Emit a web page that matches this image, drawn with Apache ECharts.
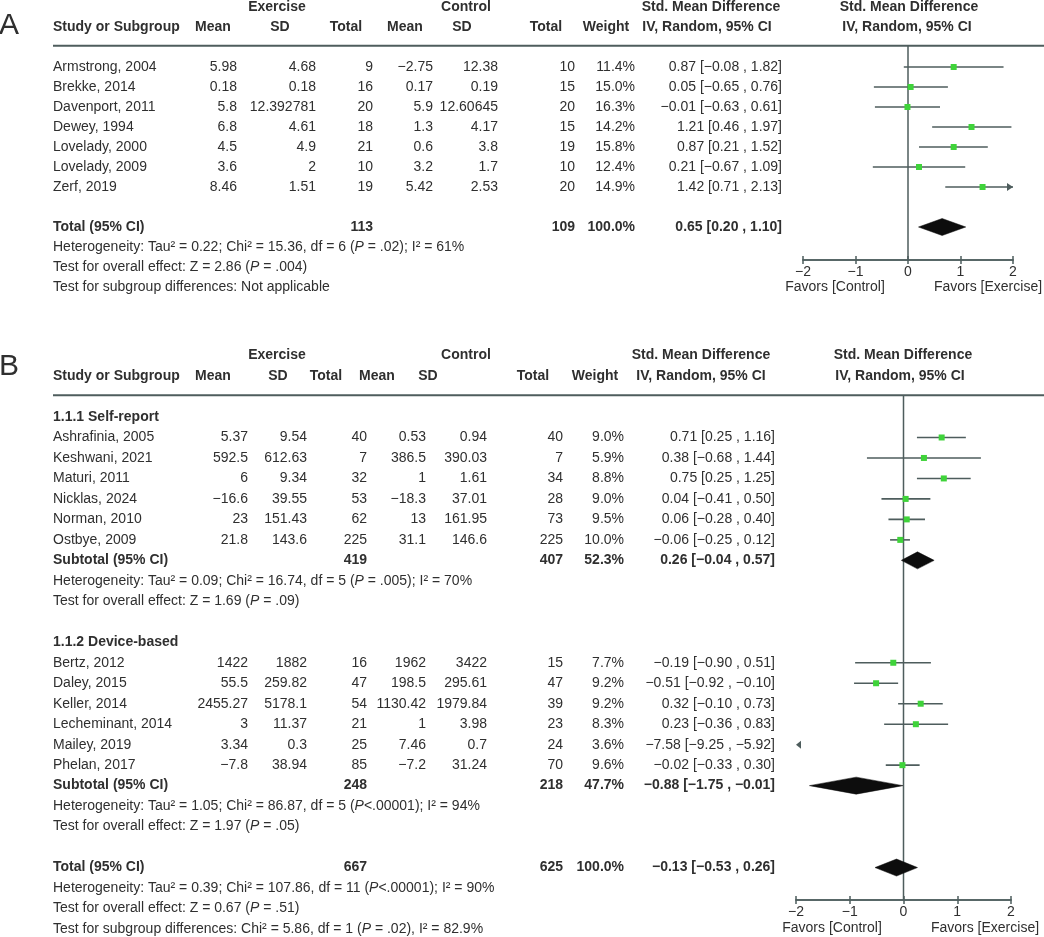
<!DOCTYPE html>
<html><head><meta charset="utf-8">
<script src="https://cdn.jsdelivr.net/npm/echarts@6/dist/echarts.min.js"></script>
<style>html,body{margin:0;padding:0;background:#fff}#c{width:1044px;height:937px}</style>
</head><body><div id="c"></div>
<script>
// ---------- Panel A data ----------
const studiesA = ['Armstrong, 2004','Brekke, 2014','Davenport, 2011','Dewey, 1994','Lovelady, 2000','Lovelady, 2009','Zerf, 2019'];
const exMeanA = [5.98, 0.18, 5.8, 6.8, 4.5, 3.6, 8.46];
const exSdA = [4.68, 0.18, 12.392781, 4.61, 4.9, 2, 1.51];
const exNA = [9, 16, 20, 18, 21, 10, 19];
const ctMeanA = [-2.75, 0.17, 5.9, 1.3, 0.6, 3.2, 5.42];
const ctSdA = [12.38, 0.19, 12.60645, 4.17, 3.8, 1.7, 2.53];
const ctNA = [10, 15, 20, 15, 19, 10, 20];
const weightA = [11.4, 15.0, 16.3, 14.2, 15.8, 12.4, 14.9];
const smdA = [0.87, 0.05, -0.01, 1.21, 0.87, 0.21, 1.42];
const loA = [-0.08, -0.65, -0.63, 0.46, 0.21, -0.67, 0.71];
const hiA = [1.82, 0.76, 0.61, 1.97, 1.52, 1.09, 2.13];
const totalA = {exN: 113, ctN: 109, w: 100.0, est: 0.65, lo: 0.20, hi: 1.10};
const textA = [
  'Heterogeneity: Tau² = 0.22; Chi² = 15.36, df = 6 ({i|P} = .02); I² = 61%',
  'Test for overall effect: Z = 2.86 ({i|P} = .004)',
  'Test for subgroup differences: Not applicable'
];

// ---------- Panel B data ----------
const groupNamesB = ['1.1.1 Self-report', '1.1.2 Device-based'];
const studiesB1 = ['Ashrafinia, 2005','Keshwani, 2021','Maturi, 2011','Nicklas, 2024','Norman, 2010','Ostbye, 2009'];
const exMeanB1 = [5.37, 592.5, 6, -16.6, 23, 21.8];
const exSdB1 = [9.54, 612.63, 9.34, 39.55, 151.43, 143.6];
const exNB1 = [40, 7, 32, 53, 62, 225];
const ctMeanB1 = [0.53, 386.5, 1, -18.3, 13, 31.1];
const ctSdB1 = [0.94, 390.03, 1.61, 37.01, 161.95, 146.6];
const ctNB1 = [40, 7, 34, 28, 73, 225];
const weightB1 = [9.0, 5.9, 8.8, 9.0, 9.5, 10.0];
const smdB1 = [0.71, 0.38, 0.75, 0.04, 0.06, -0.06];
const loB1 = [0.25, -0.68, 0.25, -0.41, -0.28, -0.25];
const hiB1 = [1.16, 1.44, 1.25, 0.50, 0.40, 0.12];
const subB1 = {exN: 419, ctN: 407, w: 52.3, est: 0.26, lo: -0.04, hi: 0.57};
const textB1 = [
  'Heterogeneity: Tau² = 0.09; Chi² = 16.74, df = 5 ({i|P} = .005); I² = 70%',
  'Test for overall effect: Z = 1.69 ({i|P} = .09)'
];
const studiesB2 = ['Bertz, 2012','Daley, 2015','Keller, 2014','Lecheminant, 2014','Mailey, 2019','Phelan, 2017'];
const exMeanB2 = [1422, 55.5, 2455.27, 3, 3.34, -7.8];
const exSdB2 = [1882, 259.82, 5178.1, 11.37, 0.3, 38.94];
const exNB2 = [16, 47, 54, 21, 25, 85];
const ctMeanB2 = [1962, 198.5, 1130.42, 1, 7.46, -7.2];
const ctSdB2 = [3422, 295.61, 1979.84, 3.98, 0.7, 31.24];
const ctNB2 = [15, 47, 39, 23, 24, 70];
const weightB2 = [7.7, 9.2, 9.2, 8.3, 3.6, 9.6];
const smdB2 = [-0.19, -0.51, 0.32, 0.23, -7.58, -0.02];
const loB2 = [-0.90, -0.92, -0.10, -0.36, -9.25, -0.33];
const hiB2 = [0.51, -0.10, 0.73, 0.83, -5.92, 0.30];
const subB2 = {exN: 248, ctN: 218, w: 47.7, est: -0.88, lo: -1.75, hi: -0.01};
const textB2 = [
  'Heterogeneity: Tau² = 1.05; Chi² = 86.87, df = 5 ({i|P}<.00001); I² = 94%',
  'Test for overall effect: Z = 1.97 ({i|P} = .05)'
];
const totalB = {exN: 667, ctN: 625, w: 100.0, est: -0.13, lo: -0.53, hi: 0.26};
const textB = [
  'Heterogeneity: Tau² = 0.39; Chi² = 107.86, df = 11 ({i|P}<.00001); I² = 90%',
  'Test for overall effect: Z = 0.67 ({i|P} = .51)',
  'Test for subgroup differences: Chi² = 5.86, df = 1 ({i|P} = .02), I² = 82.9%'
];
const axisTicks = [-2, -1, 0, 1, 2];
const favorsLabels = ['Favors [Control]', 'Favors [Exercise]'];

// ---------- helpers ----------
const FF = '"Liberation Sans", Arial, Helvetica, sans-serif';
const TXT = '#2f2f2f';
const LINE = '#4e5d5d';
const GREEN = '#3fd33a';
const neg = n => (n < 0 ? '\u2212' : '') + Math.abs(n);
const f2 = n => (n < 0 ? '\u2212' : '') + Math.abs(n).toFixed(2);
const ci = (e, l, h) => `${f2(e)} [${f2(l)} , ${f2(h)}]`;
const pct = w => w.toFixed(1) + '%';

function headerRows(H1, H2) {
  return [
    {r: -3, cells: H1.map(h => [h[0], h[1], 'center', true])},
    {r: -2, cells: H2.map(h => [h[0], h[1], h[2] || 'center', true])},
    {r: -1.06, line: [53, 1044]}
  ];
}
function studyRow(r, C, name, em, es, en, cm, cs, cn, w, e, l, h) {
  return {r, cells: [[C.name, name, 'left'], [C.em, neg(em), 'right'], [C.es, neg(es), 'right'], [C.en, String(en), 'right'],
    [C.cm, neg(cm), 'right'], [C.cs, neg(cs), 'right'], [C.cn, String(cn), 'right'], [C.w, pct(w), 'right'], [C.ci, ci(e, l, h), 'right']]};
}
function sumRow(r, C, label, s) {
  return {r, cells: [[C.name, label, 'left', true], [C.en, String(s.exN), 'right', true], [C.cn, String(s.ctN), 'right', true],
    [C.w, pct(s.w), 'right', true], [C.ci, ci(s.est, s.lo, s.hi), 'right', true]]};
}
const noteRow = (r, C, t) => ({r, cells: [[C.name, t, 'left', false]]});

// Panel A table
const CA = {name: 53, em: 237, es: 316, en: 373, cm: 433, cs: 498, cn: 575, w: 635, ci: 782};
let rowsA = headerRows(
  [[277, 'Exercise'], [466, 'Control'], [711, 'Std. Mean Difference'], [909, 'Std. Mean Difference']],
  [[53, 'Study or Subgroup', 'left'], [213, 'Mean'], [280, 'SD'], [346, 'Total'], [405, 'Mean'], [462, 'SD'], [546, 'Total'], [606, 'Weight'], [707, 'IV, Random, 95% CI'], [907, 'IV, Random, 95% CI']]);
const forestA = [];
studiesA.forEach((s, i) => {
  rowsA.push(studyRow(i, CA, s, exMeanA[i], exSdA[i], exNA[i], ctMeanA[i], ctSdA[i], ctNA[i], weightA[i], smdA[i], loA[i], hiA[i]));
  forestA.push([smdA[i], loA[i], hiA[i], i, 0]);
});
rowsA.push(sumRow(8, CA, 'Total (95% CI)', totalA));
forestA.push([totalA.est, totalA.lo, totalA.hi, 8, 1]);
textA.forEach((t, k) => rowsA.push(noteRow(9 + k, CA, t)));

// Panel B table
const CB = {name: 53, em: 248, es: 307, en: 367, cm: 426, cs: 487, cn: 563, w: 624, ci: 775};
let rowsB = headerRows(
  [[277, 'Exercise'], [466, 'Control'], [701, 'Std. Mean Difference'], [903, 'Std. Mean Difference']],
  [[53, 'Study or Subgroup', 'left'], [213, 'Mean'], [278, 'SD'], [326, 'Total'], [377, 'Mean'], [428, 'SD'], [533, 'Total'], [595, 'Weight'], [701, 'IV, Random, 95% CI'], [900, 'IV, Random, 95% CI']]);
const forestB = [];
function addGroup(r0, gname, S, EM, ES, EN, CM, CS, CN, W, E, L, H, sub, notes) {
  rowsB.push({r: r0, cells: [[CB.name, gname, 'left', true]]});
  S.forEach((s, i) => {
    rowsB.push(studyRow(r0 + 1 + i, CB, s, EM[i], ES[i], EN[i], CM[i], CS[i], CN[i], W[i], E[i], L[i], H[i]));
    forestB.push([E[i], L[i], H[i], r0 + 1 + i, 0]);
  });
  const rs = r0 + 1 + S.length;
  rowsB.push(sumRow(rs, CB, 'Subtotal (95% CI)', sub));
  forestB.push([sub.est, sub.lo, sub.hi, rs, 1]);
  notes.forEach((t, k) => rowsB.push(noteRow(rs + 1 + k, CB, t)));
}
addGroup(0, groupNamesB[0], studiesB1, exMeanB1, exSdB1, exNB1, ctMeanB1, ctSdB1, ctNB1, weightB1, smdB1, loB1, hiB1, subB1, textB1);
addGroup(11, groupNamesB[1], studiesB2, exMeanB2, exSdB2, exNB2, ctMeanB2, ctSdB2, ctNB2, weightB2, smdB2, loB2, hiB2, subB2, textB2);
rowsB.push(sumRow(22, CB, 'Total (95% CI)', totalB));
forestB.push([totalB.est, totalB.lo, totalB.hi, 22, 1]);
textB.forEach((t, k) => rowsB.push(noteRow(23 + k, CB, t)));

// ---------- render functions ----------
function tableRender(rows) {
  return function (params, api) {
    const row = rows[params.dataIndex];
    const y = api.coord([0, row.r])[1];
    const children = [];
    if (row.line) {
      const x1 = api.coord([row.line[0], row.r])[0], x2 = api.coord([row.line[1], row.r])[0];
      children.push({type: 'line', shape: {x1, y1: y, x2, y2: y}, style: {stroke: LINE, lineWidth: 2}});
    }
    (row.cells || []).forEach(c => {
      const x = api.coord([c[0], row.r])[0];
      children.push({type: 'text', x, y, style: {
        text: c[1], fill: TXT, fontSize: 14, fontFamily: FF, fontWeight: c[3] ? 'bold' : 'normal',
        align: c[2], verticalAlign: 'middle',
        rich: {i: {fontStyle: 'italic', fontSize: 14, fontFamily: FF, fill: TXT, fontWeight: c[3] ? 'bold' : 'normal'}}
      }});
    });
    return {type: 'group', children};
  };
}
function forestRender(params, api) {
  const est = api.value(0), lo = api.value(1), hi = api.value(2), r = api.value(3), kind = api.value(4);
  const y = api.coord([0, r])[1];
  const X = v => api.coord([v, r])[0];
  const xmin = X(-2), xmax = X(2);
  const children = [];
  if (kind === 1) {
    const h = 8.5;
    children.push({type: 'polygon', shape: {points: [[X(lo), y], [X(est), y - h], [X(hi), y], [X(est), y + h]]},
      style: {fill: '#0d0d0d', stroke: '#0d0d0d', lineWidth: 0.5}});
    return {type: 'group', children};
  }
  if (hi < -2) {
    children.push({type: 'polygon', shape: {points: [[xmin, y], [xmin + 5, y - 4], [xmin + 5, y + 4]]}, style: {fill: LINE}});
    return {type: 'group', children};
  }
  const a = Math.max(X(lo), xmin), b = Math.min(X(hi), xmax);
  children.push({type: 'line', shape: {x1: a, y1: y, x2: b, y2: y}, style: {stroke: LINE, lineWidth: 1.6}});
  if (hi > 2) children.push({type: 'polygon', shape: {points: [[xmax, y], [xmax - 6, y - 4], [xmax - 6, y + 4]]}, style: {fill: LINE}});
  if (lo < -2) children.push({type: 'polygon', shape: {points: [[xmin, y], [xmin + 6, y - 4], [xmin + 6, y + 4]]}, style: {fill: LINE}});
  const px = X(est);
  children.push({type: 'rect', shape: {x: px - 3, y: y - 3, width: 6, height: 6}, style: {fill: GREEN}});
  return {type: 'group', children};
}

// ---------- chart ----------
const chart = echarts.init(document.getElementById('c'), null, {renderer: 'canvas'});
const yA = {min: -1.05, max: 9.65};
const yB = {min: -22 / 20.48, max: (900 - 417) / 20.48};
const fAxis = (grid, inside, showLabel) => ({
  type: 'value', gridIndex: grid, min: -2, max: 2, interval: 1, position: 'bottom',
  axisLine: {show: true, onZero: false, lineStyle: {color: LINE, width: 1.5}},
  axisTick: {show: true, inside, length: 4, lineStyle: {color: LINE, width: 1.5}},
  axisLabel: {show: showLabel, color: TXT, fontSize: 14, fontFamily: FF, margin: 5,
    formatter: v => (axisTicks.includes(v) ? neg(v) : '')},
  splitLine: {show: false}
});
const hideX = grid => ({type: 'value', gridIndex: grid, min: 0, max: 1044, show: false});
const yAx = (grid, r) => ({type: 'value', gridIndex: grid, inverse: true, min: r.min, max: r.max, show: false});

chart.setOption({
  animation: false,
  backgroundColor: '#ffffff',
  grid: [
    {left: 803, width: 210, top: 46, height: 214},
    {left: 0, width: 1044, top: 46, height: 214},
    {left: 796, width: 215, top: 395, height: 505},
    {left: 0, width: 1044, top: 395, height: 505}
  ],
  xAxis: [fAxis(0, false, true), fAxis(0, true, false), hideX(1), fAxis(2, false, true), fAxis(2, true, false), hideX(3)],
  yAxis: [yAx(0, yA), yAx(1, yA), yAx(2, yB), yAx(3, yB)],
  graphic: [
    {type: 'text', x: -1, y: 26, style: {text: 'A', fontSize: 30, fontFamily: FF, fill: TXT, verticalAlign: 'middle'}},
    {type: 'text', x: -1, y: 367, style: {text: 'B', fontSize: 30, fontFamily: FF, fill: TXT, verticalAlign: 'middle'}},
    {type: 'text', x: 835, y: 287, style: {text: favorsLabels[0], fontSize: 14, fontFamily: FF, fill: TXT, align: 'center', verticalAlign: 'middle'}},
    {type: 'text', x: 988, y: 287, style: {text: favorsLabels[1], fontSize: 14, fontFamily: FF, fill: TXT, align: 'center', verticalAlign: 'middle'}},
    {type: 'text', x: 832, y: 928, style: {text: favorsLabels[0], fontSize: 14, fontFamily: FF, fill: TXT, align: 'center', verticalAlign: 'middle'}},
    {type: 'text', x: 985, y: 928, style: {text: favorsLabels[1], fontSize: 14, fontFamily: FF, fill: TXT, align: 'center', verticalAlign: 'middle'}}
  ],
  series: [
    {type: 'line', xAxisIndex: 0, yAxisIndex: 0, data: [[0, yA.min], [0, yA.max]], symbol: 'none', silent: true,
      lineStyle: {color: LINE, width: 1.5}, z: 1},
    {type: 'custom', xAxisIndex: 0, yAxisIndex: 0, data: forestA, renderItem: forestRender, clip: false, z: 3,
      encode: {x: [0, 1, 2], y: 3}},
    {type: 'custom', xAxisIndex: 2, yAxisIndex: 1, data: rowsA.map(r => [0, r.r]), renderItem: tableRender(rowsA), clip: false,
      encode: {x: 0, y: 1}},
    {type: 'line', xAxisIndex: 3, yAxisIndex: 2, data: [[0, yB.min], [0, yB.max]], symbol: 'none', silent: true,
      lineStyle: {color: LINE, width: 1.5}, z: 1},
    {type: 'custom', xAxisIndex: 3, yAxisIndex: 2, data: forestB, renderItem: forestRender, clip: false, z: 3,
      encode: {x: [0, 1, 2], y: 3}},
    {type: 'custom', xAxisIndex: 5, yAxisIndex: 3, data: rowsB.map(r => [0, r.r]), renderItem: tableRender(rowsB), clip: false,
      encode: {x: 0, y: 1}}
  ]
});
</script></body></html>
